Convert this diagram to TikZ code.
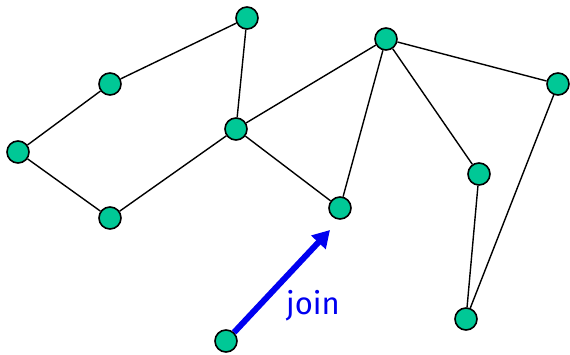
\documentclass[tikz,border=0pt]{standalone}
\usepackage{fontspec}
\setmainfont{Fira Sans}
\usetikzlibrary{arrows.meta}
\definecolor{nodegreen}{HTML}{00C896}
\definecolor{joinblue}{HTML}{0000F0}
\begin{document}
\begin{tikzpicture}[x=1pt,y=-1pt,
  vtx/.style={circle,draw=black,line width=1.6pt,fill=nodegreen,minimum size=22pt,inner sep=0pt},
  edge/.style={line width=1.4pt},
  joinarrow/.style={draw=joinblue,line width=6pt,-{Triangle[length=17pt,width=19pt]}}]
\useasboundingbox (0,0) rectangle (570,354);
\node[vtx] (A) at (247,18) {};
\node[vtx] (B) at (110,84) {};
\node[vtx] (C) at (18,152) {};
\node[vtx] (D) at (110,218) {};
\node[vtx] (E) at (236,129) {};
\node[vtx] (F) at (386,39) {};
\node[vtx] (G) at (558,84) {};
\node[vtx] (H) at (340,208) {};
\node[vtx] (I) at (479,174) {};
\node[vtx] (J) at (466,319) {};
\node[vtx] (K) at (226,341) {};
\coordinate (T) at (330,230);
\draw[edge] (A) -- (B);
\draw[edge] (B) -- (C);
\draw[edge] (C) -- (D);
\draw[edge] (D) -- (E);
\draw[edge] (E) -- (A);
\draw[edge] (E) -- (F);
\draw[edge] (E) -- (H);
\draw[edge] (F) -- (H);
\draw[edge] (F) -- (I);
\draw[edge] (F) -- (G);
\draw[edge] (G) -- (J);
\draw[edge] (I) -- (J);
\draw[joinarrow] (K) -- (T);
\node[text=joinblue,font=\fontsize{31}{36}\selectfont,anchor=base] (L) at (313,314) {join};
\end{tikzpicture}
\end{document}
